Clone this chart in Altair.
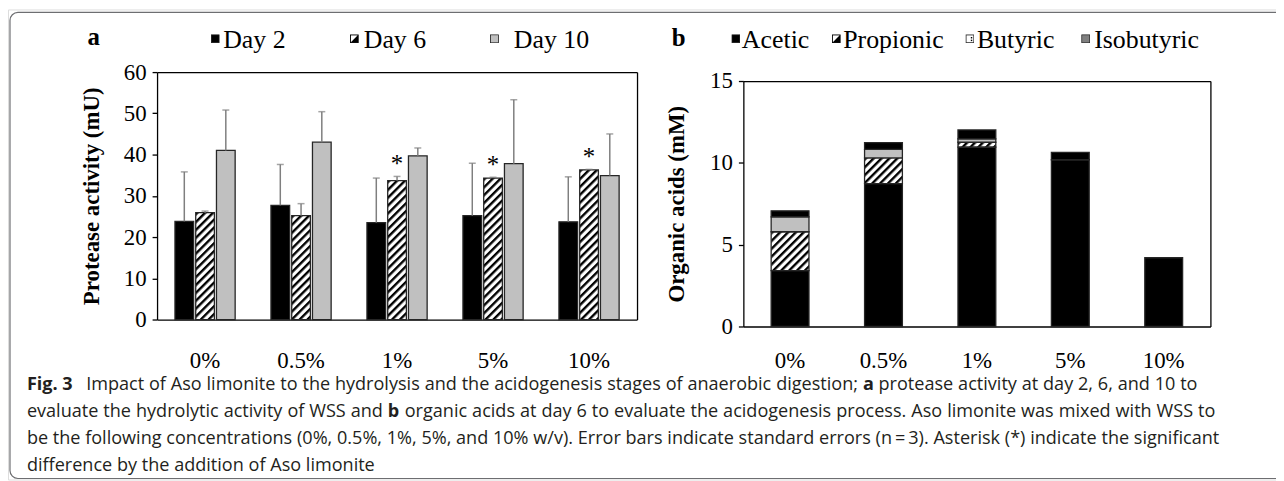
import base64
import struct
import subprocess
import altair as alt
import pandas as pd

# ---------------- data ----------------
conc = ["0%", "0.5%", "1%", "5%", "10%"]
days = ["Day 2", "Day 6", "Day 10"]
day2 = [23.8, 27.7, 23.5, 25.2, 23.7]
day6 = [25.9, 25.2, 33.7, 34.3, 36.3]
day10 = [41.0, 43.0, 39.7, 37.8, 34.9]
day2_se = [12.0, 9.9, 10.8, 12.7, 10.9]
day6_se = [0.4, 2.9, 1.0, 0.2, 0.1]
day10_se = [9.8, 7.4, 1.9, 15.5, 10.1]
day6_signif = [False, False, True, True, True]

acids = ["Acetic", "Propionic", "Butyric", "Isobutyric"]
acetic = [3.41, 8.73, 10.96, 10.19, 4.20]
propionic = [2.38, 1.57, 0.30, 0.0, 0.0]
butyric = [0.91, 0.52, 0.20, 0.0, 0.0]
isobutyric = [0.37, 0.41, 0.55, 0.45, 0.0]

yticks_a = [0, 10, 20, 30, 40, 50, 60]
yticks_b = [0, 5, 10, 15]

caption_lines = [
    [("Fig. 3", "bold"),
     ("Impact of Aso limonite to the hydrolysis and the acidogenesis stages of anaerobic digestion;", "normal"),
     ("a", "bold"),
     ("protease activity at day 2, 6, and 10 to", "normal")],
    [("evaluate the hydrolytic activity of WSS and", "normal"),
     ("b", "bold"),
     ("organic acids at day 6 to evaluate the acidogenesis process. Aso limonite was mixed with WSS to",
      "normal")],
    [("be the following concentrations (0%, 0.5%, 1%, 5%, and 10% w/v). Error bars indicate standard errors "
      "(n\u2009=\u20093). Asterisk (*) indicate the significant", "normal")],
    [("difference by the addition of Aso limonite", "normal")],
]

# ---------------- tables ----------------
rows_a = []
for d, vals, ses in zip(days, [day2, day6, day10], [day2_se, day6_se, day10_se]):
    for i, c in enumerate(conc):
        rows_a.append({"conc": c, "day": d, "value": vals[i], "se": ses[i],
                       "sig": bool(d == "Day 6" and day6_signif[i])})
df_a = pd.DataFrame(rows_a)

rows_b = []
for k, (a, vals) in enumerate(zip(acids, [acetic, propionic, butyric, isobutyric])):
    for i, c in enumerate(conc):
        rows_b.append({"conc": c, "acid": a, "value": vals[i], "order": k})
df_b = pd.DataFrame(rows_b)


# ---------------- text measuring (for the caption flow) ----------------
class FontMetrics:
    def __init__(self, path):
        data = open(path, "rb").read()
        off0 = struct.unpack(">I", data[12:16])[0] if data[:4] == b"ttcf" else 0
        n = struct.unpack(">H", data[off0 + 4:off0 + 6])[0]
        tabs = {}
        for i in range(n):
            tag, _, off, ln = struct.unpack(">4sIII", data[off0 + 12 + 16 * i: off0 + 28 + 16 * i])
            tabs[tag.decode("latin1")] = off
        self.data = data
        self.upem = struct.unpack(">H", data[tabs["head"] + 18:tabs["head"] + 20])[0]
        nhm = struct.unpack(">H", data[tabs["hhea"] + 34:tabs["hhea"] + 36])[0]
        h = tabs["hmtx"]
        self.adv = [struct.unpack(">H", data[h + 4 * i:h + 4 * i + 2])[0] for i in range(nhm)]
        c = tabs["cmap"]
        nsub = struct.unpack(">H", data[c + 2:c + 4])[0]
        self.seg = None
        for i in range(nsub):
            pid, eid, off = struct.unpack(">HHI", data[c + 4 + 8 * i:c + 12 + 8 * i])
            sub = c + off
            fmt = struct.unpack(">H", data[sub:sub + 2])[0]
            if fmt == 4 and (pid == 3 or pid == 0):
                x2 = struct.unpack(">H", data[sub + 6:sub + 8])[0]
                m = x2 // 2
                ends = struct.unpack(">%dH" % m, data[sub + 14:sub + 14 + x2])
                starts = struct.unpack(">%dH" % m, data[sub + 16 + x2:sub + 16 + 2 * x2])
                deltas = struct.unpack(">%dh" % m, data[sub + 16 + 2 * x2:sub + 16 + 3 * x2])
                rpos = sub + 16 + 3 * x2
                roffs = struct.unpack(">%dH" % m, data[rpos:rpos + x2])
                self.seg = (ends, starts, deltas, roffs, rpos)
                break
        if self.seg is None:
            raise ValueError("no cmap")

    def glyph(self, code):
        ends, starts, deltas, roffs, rpos = self.seg
        for s in range(len(ends)):
            if code <= ends[s]:
                if code < starts[s]:
                    return 0
                if roffs[s] == 0:
                    return (code + deltas[s]) & 0xFFFF
                addr = rpos + 2 * s + roffs[s] + 2 * (code - starts[s])
                g = struct.unpack(">H", self.data[addr:addr + 2])[0]
                return (g + deltas[s]) & 0xFFFF if g else 0
        return 0

    def width(self, text, size):
        tot = 0
        for ch in text:
            g = self.glyph(ord(ch))
            if g == 0:
                tot += self.upem * 0.2
            else:
                tot += self.adv[g] if g < len(self.adv) else self.adv[-1]
        return tot * size / self.upem


def font_file(pattern):
    try:
        r = subprocess.run(["fc-match", "-f", "%{file}", pattern], capture_output=True, text=True, timeout=10)
        return r.stdout.strip() or None
    except Exception:
        return None


def make_measure(family):
    reg_path = font_file(family)
    bold_path = font_file(family + ":bold")
    try:
        reg = FontMetrics(reg_path)
    except Exception:
        reg = None
    try:
        bold = FontMetrics(bold_path) if bold_path and bold_path != reg_path else None
    except Exception:
        bold = None

    def measure(text, size, weight="normal"):
        if reg is None:
            return len(text) * 0.5 * size * (1.08 if weight == "bold" else 1.0)
        if weight == "bold":
            if bold is not None:
                return bold.width(text, size)
            return reg.width(text, size) * 1.08
        return reg.width(text, size)
    return measure


# ---------------- styles ----------------
SERIF = "Liberation Serif"
SANS = "Open Sans"
W, H = 1276, 473


def svg_uri(body, viewbox=None):
    vb = f" viewBox='{viewbox}' preserveAspectRatio='none'" if viewbox else ""
    svg = f"<svg xmlns='http://www.w3.org/2000/svg' width='100%' height='100%'{vb}>{body}</svg>"
    return "data:image/svg+xml;base64," + base64.b64encode(svg.encode()).decode()


HATCH = svg_uri(
    "<defs><pattern id='h' width='5.6' height='5.6' patternUnits='userSpaceOnUse' "
    "patternTransform='rotate(45)'><rect width='5.6' height='5.6' fill='#fff'/>"
    "<rect width='2.4' height='5.6' fill='#000'/></pattern></defs>"
    "<rect width='100%' height='100%' fill='url(#h)'/>")
DOTS = svg_uri(
    "<defs><pattern id='d' width='9' height='6' patternUnits='userSpaceOnUse'>"
    "<rect width='9' height='6' fill='#fff'/><rect x='4' y='2' width='1.8' height='1.8' fill='#000'/>"
    "</pattern></defs><rect width='100%' height='100%' fill='url(#d)'/>")


def sw_solid(col):
    return svg_uri(f"<rect x='0.5' y='0.5' width='9' height='9' fill='{col}' stroke='#222' stroke-width='1'/>",
                   "0 0 10 10")


SW_HALF = svg_uri("<rect x='0.6' y='0.6' width='8.8' height='8.8' fill='#fff' stroke='#000' stroke-width='1.2'/>"
                  "<polygon points='9.4,0.6 9.4,9.4 0.6,9.4' fill='#000'/>", "0 0 10 10")
SW_DOTS = svg_uri("<rect x='0.6' y='0.6' width='8.8' height='8.8' fill='#fff' stroke='#333' stroke-width='1.2'/>"
                  "<rect x='6' y='3' width='1.6' height='1.6' fill='#000'/>"
                  "<rect x='6' y='6' width='1.6' height='1.6' fill='#000'/>", "0 0 10 10")

BAR_STROKE = "#262626"
ERR = "#7f7f7f"

# ---------------- panel a ----------------
A_X0, A_X1, A_Y0, A_Y1 = 150, 633, 312, 63
xa_scale = alt.Scale(domain=conc, range=[A_X0, A_X1], paddingInner=0.373, paddingOuter=0.1865)
ya_scale = alt.Scale(domain=[0, 60], range=[A_Y0, A_Y1], nice=False)
xoff = alt.XOffset("day:N", sort=days, scale=alt.Scale(domain=days, paddingInner=0.1, paddingOuter=0))

ax_a_left = alt.Axis(orient="left", offset=-A_X0, values=yticks_a, grid=False,
                     domainColor="black", domainWidth=1.3, tickColor="black", tickWidth=1.3, tickSize=5,
                     labelFont=SERIF, labelFontSize=23, labelColor="black", labelPadding=6,
                     title="Protease activity (mU)", titleFont=SERIF, titleFontSize=23,
                     titleFontWeight="bold", titleColor="black", titleX=84 - A_X0, titleBaseline="middle")
ax_a_bottom = alt.Axis(orient="bottom", offset=A_Y0 - H, ticks=False, grid=False,
                       domainColor="black", domainWidth=1.3, labelFont=SERIF, labelFontSize=23,
                       labelColor="black", labelPadding=30, labelAngle=0, title=None)
ax_a_right = alt.Axis(orient="right", offset=A_X1 - W, labels=False, ticks=False, grid=False,
                      domainColor="black", domainWidth=1.3, title=None)
ax_a_top = alt.Axis(orient="top", offset=-A_Y1, labels=False, ticks=False, grid=False,
                    domainColor="black", domainWidth=1.3, title=None)

base_a = alt.Chart(df_a).transform_calculate(top="datum.value + datum.se")

img_a = base_a.transform_filter("datum.day == 'Day 6'").mark_image(aspect=False).encode(
    x=alt.X("conc:N", sort=conc, scale=xa_scale, axis=None),
    xOffset=xoff,
    y=alt.Y("value:Q", scale=ya_scale, axis=None),
    y2=alt.datum(0),
    url=alt.value(HATCH),
)
bars_a = base_a.mark_bar(stroke=BAR_STROKE, strokeWidth=1.3).encode(
    x=alt.X("conc:N", sort=conc, scale=xa_scale, axis=ax_a_bottom),
    xOffset=xoff,
    y=alt.Y("value:Q", scale=ya_scale, axis=ax_a_left),
    fill=alt.Fill("day:N", sort=days,
                  scale=alt.Scale(domain=days, range=["#000000", "rgba(255,255,255,0)", "#c0c0c0"]),
                  legend=None),
)
err_a = base_a.mark_rule(color=ERR, strokeWidth=1.5).encode(
    x=alt.X("conc:N", sort=conc, scale=xa_scale, axis=ax_a_top),
    xOffset=xoff,
    y=alt.Y("value:Q", scale=ya_scale, axis=ax_a_right),
    y2="top:Q",
)
cap_a = base_a.mark_tick(color=ERR, thickness=1.5, size=7, orient="horizontal").encode(
    x=alt.X("conc:N", sort=conc, scale=xa_scale, axis=None),
    xOffset=xoff,
    y=alt.Y("top:Q", scale=ya_scale, axis=None),
)
star_a = base_a.transform_filter("datum.sig").mark_text(
    text="*", font=SERIF, fontSize=25, baseline="alphabetic", dy=-4, color="black").encode(
    x=alt.X("conc:N", sort=conc, scale=xa_scale, axis=None),
    xOffset=xoff,
    y=alt.Y("top:Q", scale=ya_scale, axis=None),
)
panel_a = alt.layer(img_a, bars_a, err_a, cap_a, star_a)

# ---------------- panel b ----------------
B_X0, B_X1, B_Y0, B_Y1 = 740, 1210, 319, 72
xb_scale = alt.Scale(domain=conc, range=[B_X0, B_X1], paddingInner=0.595, paddingOuter=0.2975)
yb_scale = alt.Scale(domain=[0, 15], range=[B_Y0, B_Y1], nice=False)

ax_b_left = alt.Axis(orient="left", offset=-B_X0, values=yticks_b, grid=False,
                     domainColor="black", domainWidth=1.3, tickColor="black", tickWidth=1.3, tickSize=5,
                     labelFont=SERIF, labelFontSize=23, labelColor="black", labelPadding=6,
                     title="Organic acids (mM)", titleFont=SERIF, titleFontSize=23,
                     titleFontWeight="bold", titleColor="black", titleX=673 - B_X0, titleBaseline="middle")
ax_b_bottom = alt.Axis(orient="bottom", offset=B_Y0 - H, ticks=False, grid=False,
                       domainColor="black", domainWidth=1.3, labelFont=SERIF, labelFontSize=23,
                       labelColor="black", labelPadding=23, labelAngle=0, title=None)
ax_b_right = alt.Axis(orient="right", offset=B_X1 - W, labels=False, ticks=False, grid=False,
                      domainColor="black", domainWidth=1.3, title=None)
ax_b_top = alt.Axis(orient="top", offset=-B_Y1, labels=False, ticks=False, grid=False,
                    domainColor="black", domainWidth=1.3, title=None)

base_b = alt.Chart(df_b).transform_stack(
    stack="value", groupby=["conc"], as_=["y0", "y1"],
    sort=[alt.SortField("order", order="ascending")],
).transform_filter("datum.value > 0")

img_b1 = base_b.transform_filter("datum.acid == 'Propionic'").mark_image(aspect=False).encode(
    x=alt.X("conc:N", sort=conc, scale=xb_scale, axis=None),
    y=alt.Y("y1:Q", scale=yb_scale, axis=None),
    y2="y0:Q",
    url=alt.value(HATCH),
)
img_b2 = base_b.transform_filter("datum.acid == 'Butyric'").mark_image(aspect=False).encode(
    x=alt.X("conc:N", sort=conc, scale=xb_scale, axis=None),
    y=alt.Y("y1:Q", scale=yb_scale, axis=None),
    y2="y0:Q",
    url=alt.value(DOTS),
)
bars_b = base_b.mark_bar(stroke=BAR_STROKE, strokeWidth=1.3).encode(
    x=alt.X("conc:N", sort=conc, scale=xb_scale, axis=ax_b_bottom),
    y=alt.Y("y1:Q", scale=yb_scale, axis=ax_b_left),
    y2="y0:Q",
    fill=alt.Fill("acid:N", sort=acids,
                  scale=alt.Scale(domain=acids,
                                  range=["#000000", "rgba(255,255,255,0)", "rgba(255,255,255,0)", "#808080"]),
                  legend=None),
)
frame_b = base_b.mark_bar(opacity=0).encode(
    x=alt.X("conc:N", sort=conc, scale=xb_scale, axis=ax_b_top),
    y=alt.Y("y1:Q", scale=yb_scale, axis=ax_b_right),
    y2="y0:Q",
)
panel_b = alt.layer(img_b1, img_b2, bars_b, frame_b)

# ---------------- annotations (legends, letters, caption, frame) ----------------
one = pd.DataFrame({"k": [0]})


def txt(s, x, y, font=SERIF, size=26, weight="normal", color="black"):
    return alt.Chart(one).mark_text(align="left", baseline="alphabetic", font=font, fontSize=size,
                                    fontWeight=weight, color=color).encode(
        x=alt.value(x), y=alt.value(y), text=alt.value(s))


def swatch(uri, x, y, s=9):
    return alt.Chart(one).mark_image(width=s, height=s, align="left", baseline="top", aspect=False).encode(
        x=alt.value(x), y=alt.value(y), url=alt.value(uri))


legend_a_sw = [sw_solid("#000000"), SW_HALF, sw_solid("#c0c0c0")]
legend_a_pos = [(204, 216.5), (344, 358), (485, 509)]
legend_b_sw = [sw_solid("#000000"), SW_HALF, SW_DOTS, sw_solid("#808080")]
legend_b_pos = [(728, 738.5), (829, 840.5), (963.5, 975), (1080, 1093)]
LEG_SW_Y, LEG_TXT_Y = 25, 38.5

ann = []
for name, uri, (sx, tx) in zip(days, legend_a_sw, legend_a_pos):
    ann.append(swatch(uri, sx, LEG_SW_Y))
    ann.append(txt(name, tx, LEG_TXT_Y))
for name, uri, (sx, tx) in zip(acids, legend_b_sw, legend_b_pos):
    ann.append(swatch(uri, sx, LEG_SW_Y))
    ann.append(txt(name, tx, LEG_TXT_Y))
ann.append(txt("a", 80, 35.5, size=25, weight="bold"))
ann.append(txt("b", 668, 37, size=25, weight="bold"))

# caption: words flow one after another (measured with the font's own metrics),
# each line spread to the right edge it has in the figure
measure = make_measure(SANS)
CAP_COL = "#231f20"
CAP_X0 = 19
cap_ends = [1197, 1215, 1219, None]
cap_base = [383, 410, 437, 464]

line_words = []
for segs in caption_lines:
    words = []
    for s, wgt in segs:
        if s.startswith("Fig."):
            words.append((s, wgt))
        else:
            words.extend((w_, wgt) for w_ in s.split(" "))
    line_words.append(words)


def natural(words, size):
    sp = measure(" ", size)
    tot = sum(measure(w_, size, g) for w_, g in words)
    gaps = sum(sp * (2.6 if w_.startswith("Fig.") else 1.0) for w_, g in words[:-1])
    return tot + gaps


ratios = [(e - CAP_X0) / natural(ws, 18.0) for ws, e in zip(line_words, cap_ends) if e is not None]
cap_size = max(16.0, min(20.0, 18.0 * min(ratios)))
space_w = measure(" ", cap_size)

for words, yb, end in zip(line_words, cap_base, cap_ends):
    extra = 0.0
    if end is not None and len(words) > 1:
        extra = max(0.0, (end - CAP_X0 - natural(words, cap_size)) / (len(words) - 1))
    x = CAP_X0
    for w_, wgt in words:
        ann.append(txt(w_, round(x, 2), yb, font=SANS, size=cap_size, weight=wgt, color=CAP_COL))
        gap = space_w * (2.6 if w_.startswith("Fig.") else 1.0) + extra
        x += measure(w_, cap_size, wgt) + gap

frame = alt.Chart(one).mark_rect(cornerRadius=8, fillOpacity=0, stroke="#6d6e71", strokeWidth=1.2).encode(
    x=alt.value(2), x2=alt.value(1400), y=alt.value(3), y2=alt.value(472))

chart = alt.layer(frame, panel_a, panel_b, *ann).resolve_scale(
    x="independent", y="independent"
).properties(
    width=W, height=H, padding=0, autosize=alt.AutoSizeParams(type="none")
).configure_view(stroke=None).configure(background="white")

chart.save("out.html", embed_options={"renderer": "svg", "actions": False})
